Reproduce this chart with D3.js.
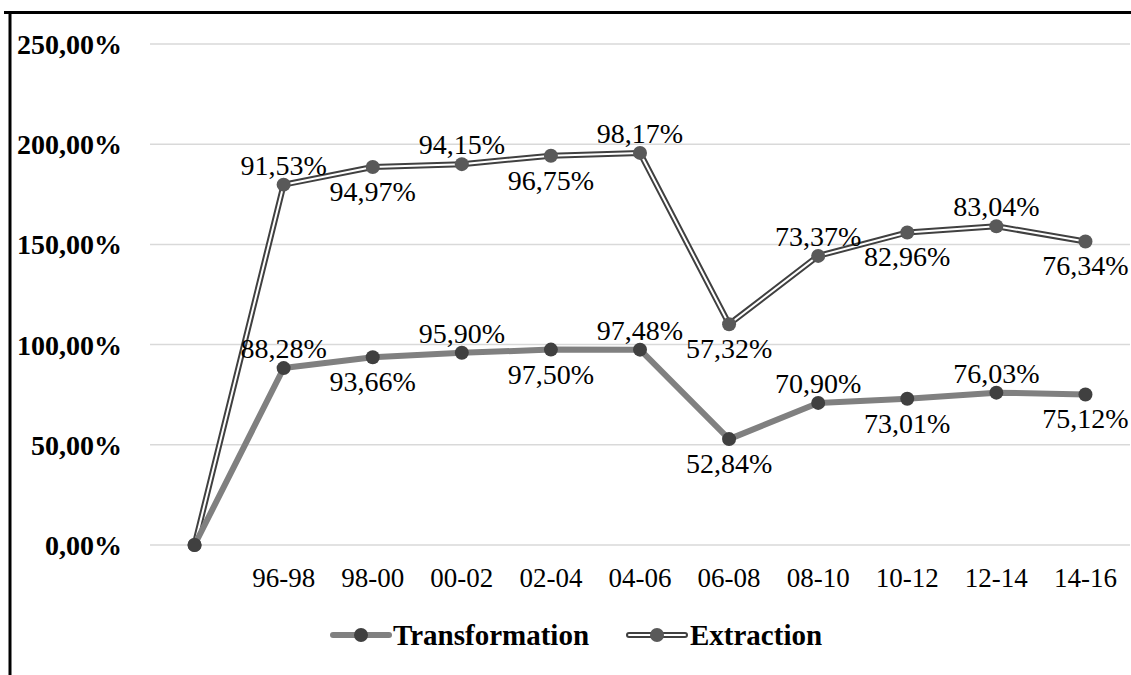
<!DOCTYPE html>
<html><head><meta charset="utf-8">
<script src="https://cdn.jsdelivr.net/npm/d3@7"></script>
<style>body{margin:0;background:#fff}svg{display:block}</style>
</head><body>
<script>
const categories = ["", "96-98", "98-00", "00-02", "02-04", "04-06", "06-08", "08-10", "10-12", "12-14", "14-16"];
const transformation = [0, 88.28, 93.66, 95.90, 97.50, 97.48, 52.84, 70.90, 73.01, 76.03, 75.12];
const extraction = [0, 91.53, 94.97, 94.15, 96.75, 98.17, 57.32, 73.37, 82.96, 83.04, 76.34];
const yTicks = [0, 50, 100, 150, 200, 250];
const seriesNames = ["Transformation", "Extraction"];

const W = 1131, H = 675;
const svg = d3.select("body").append("svg").attr("width", W).attr("height", H);
const font = "'Liberation Serif','Times New Roman',serif";
const fmt = v => v.toFixed(2).replace(".", ",") + "%";

const x = d3.scaleBand().domain(categories.map((c, i) => i)).range([150, 1130]);
const y = d3.scaleLinear().domain([0, 250]).range([545, 44]);
const cx = i => x(i) + x.bandwidth() / 2;

// frame
svg.append("line").attr("x1", 4).attr("x2", W).attr("y1", 12.5).attr("y2", 12.5).attr("stroke", "#000").attr("stroke-width", 3);
svg.append("line").attr("x1", 10).attr("x2", 10).attr("y1", 11).attr("y2", H).attr("stroke", "#000").attr("stroke-width", 3);

// grid
svg.append("g").selectAll("line").data(yTicks).join("line")
  .attr("x1", 150).attr("x2", 1130).attr("y1", d => y(d)).attr("y2", d => y(d))
  .attr("stroke", "#d9d9d9").attr("stroke-width", 1.5);

// y axis labels
const yAxis = d3.axisLeft(y).tickValues(yTicks).tickFormat(fmt).tickSize(0).tickPadding(0);
const yg = svg.append("g").attr("transform", "translate(122,0)").call(yAxis);
yg.select(".domain").remove();
yg.selectAll("text").attr("font-family", font).attr("font-size", 28).attr("font-weight", "bold").attr("fill", "#000").attr("dy", "0.34em");

// x axis labels
const xAxis = d3.axisBottom(x).tickFormat(i => categories[i]).tickSize(0).tickPadding(0);
const xg = svg.append("g").attr("transform", "translate(0,568)").call(xAxis);
xg.select(".domain").remove();
xg.selectAll("text").attr("font-family", font).attr("font-size", 27).attr("fill", "#000").attr("dy", "0.72em");

const stacked = extraction.map((v, i) => v + transformation[i]);
const line = d3.line().x((d, i) => cx(i)).y(d => y(d));

// extraction double line
svg.append("path").attr("d", line(stacked)).attr("fill", "none").attr("stroke", "#404040").attr("stroke-width", 6).attr("stroke-linejoin", "round");
svg.append("path").attr("d", line(stacked)).attr("fill", "none").attr("stroke", "#fff").attr("stroke-width", 2).attr("stroke-linejoin", "round");
// transformation line
svg.append("path").attr("d", line(transformation)).attr("fill", "none").attr("stroke", "#808080").attr("stroke-width", 6).attr("stroke-linejoin", "round");

svg.append("g").selectAll("circle").data(stacked).join("circle")
  .attr("cx", (d, i) => cx(i)).attr("cy", d => y(d)).attr("r", 7).attr("fill", "#595959");
svg.append("g").selectAll("circle").data(transformation).join("circle")
  .attr("cx", (d, i) => cx(i)).attr("cy", d => y(d)).attr("r", 7).attr("fill", "#404040");

// data labels
function labels(vals, pos) {
  svg.append("g").selectAll("text").data(vals.slice(1)).join("text")
    .attr("x", (d, i) => cx(i + 1))
    .attr("y", (d, i) => y(pos[i + 1]) + ((i % 2 === 0) ? -10 : 34))
    .attr("text-anchor", "middle").attr("font-family", font).attr("font-size", 28).attr("fill", "#000")
    .text(d => fmt(d));
}
labels(transformation, transformation);
labels(extraction, stacked);

// legend
const ly = 635;
const lg = svg.append("g");
lg.append("line").attr("x1", 333).attr("x2", 389).attr("y1", ly).attr("y2", ly).attr("stroke", "#808080").attr("stroke-width", 6).attr("stroke-linecap", "round");
lg.append("circle").attr("cx", 361).attr("cy", ly).attr("r", 7).attr("fill", "#404040");
lg.append("text").attr("x", 393).attr("y", ly).attr("dy", "0.34em").attr("font-family", font).attr("font-size", 29).attr("font-weight", "bold").text(seriesNames[0]);
lg.append("line").attr("x1", 629).attr("x2", 685).attr("y1", ly).attr("y2", ly).attr("stroke", "#404040").attr("stroke-width", 6).attr("stroke-linecap", "round");
lg.append("line").attr("x1", 629).attr("x2", 685).attr("y1", ly).attr("y2", ly).attr("stroke", "#fff").attr("stroke-width", 2).attr("stroke-linecap", "round");
lg.append("circle").attr("cx", 657).attr("cy", ly).attr("r", 7).attr("fill", "#595959");
lg.append("text").attr("x", 690).attr("y", ly).attr("dy", "0.34em").attr("font-family", font).attr("font-size", 29).attr("font-weight", "bold").text(seriesNames[1]);
</script>
</body></html>
